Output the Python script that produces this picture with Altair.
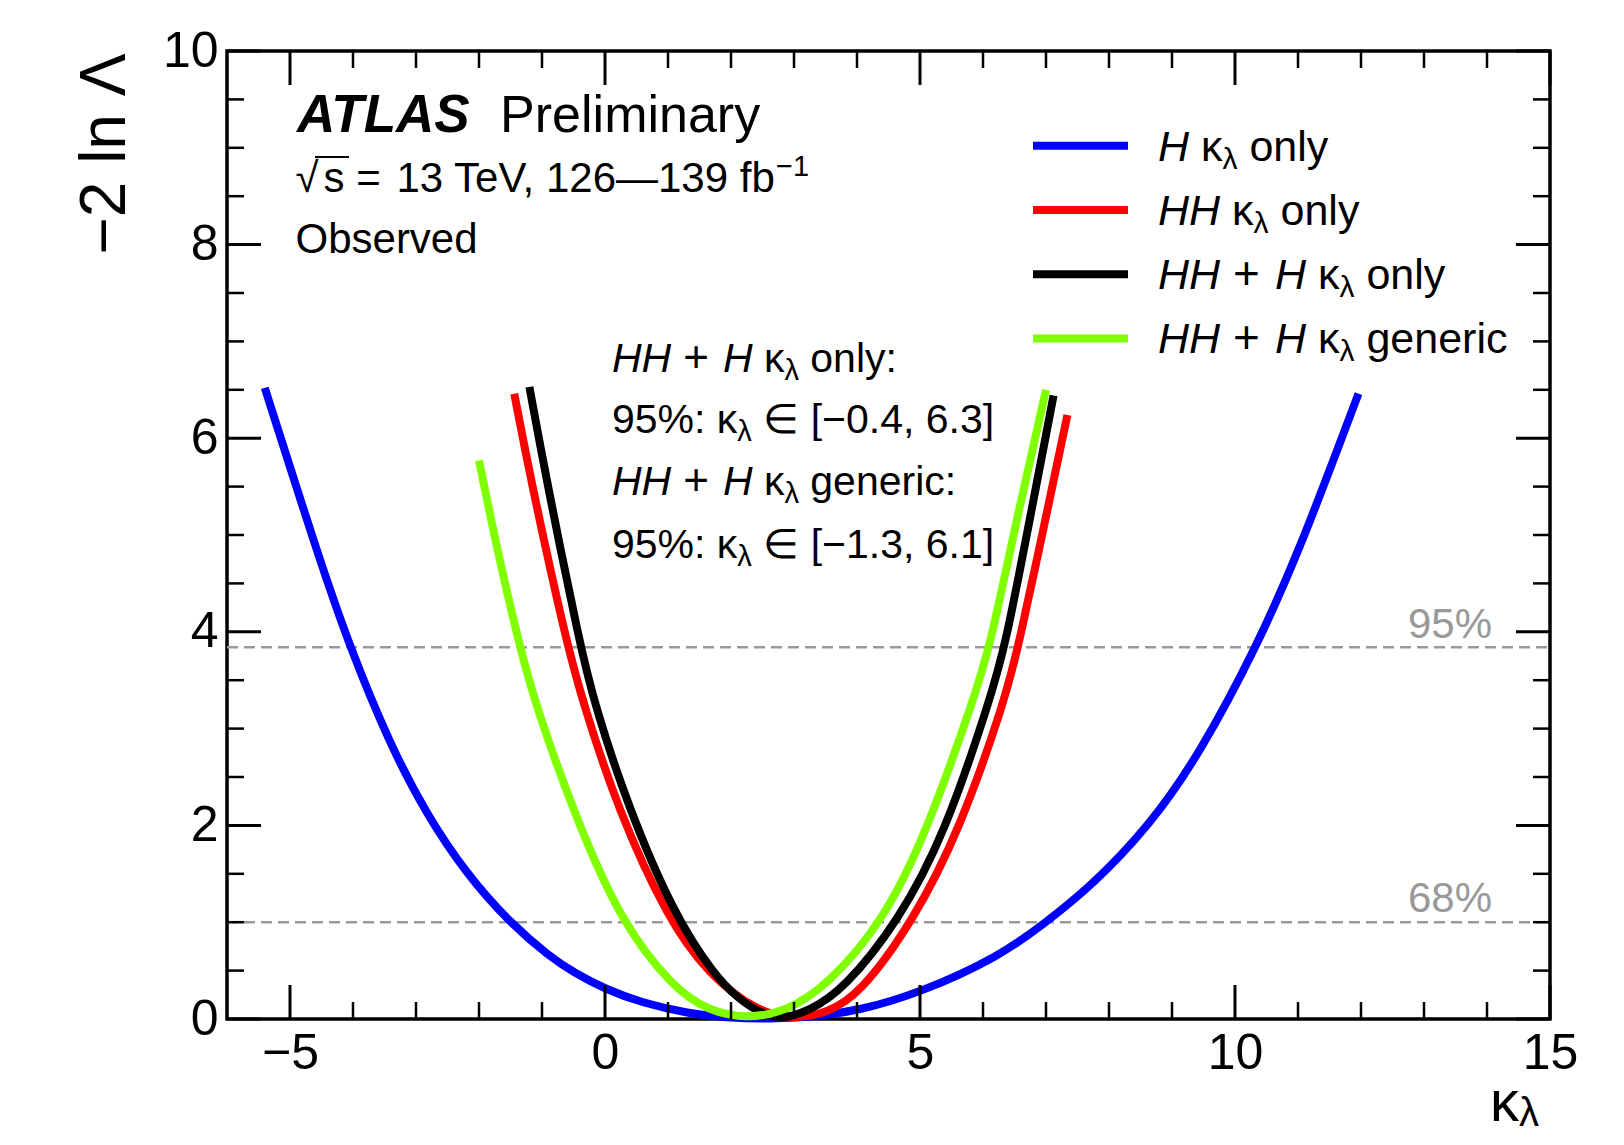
import altair as alt
import pandas as pd

# ------------------------------------------------------------------ data
x_domain = [-6, 15]
y_domain = [0, 10]

series_names = ["H κλ only", "HH κλ only", "HH + H κλ only", "HH + H κλ generic"]
series_colors = ["#0000ff", "#ff0000", "#000000", "#80ff00"]

h_only_x = [-5.40, -4.55, -4.05, -3.41, -2.83, -2.20, -1.52, -0.87, -0.49, 0.00, 0.57, 1.37,
            1.90, 2.60, 3.30, 4.05, 5.00, 6.27, 6.96, 7.70, 8.65, 9.44, 10.34, 11.03, 11.96]
h_only_y = [6.52, 4.78, 3.84, 2.83, 2.11, 1.50, 1.00, 0.64, 0.48, 0.31, 0.17, 0.05,
            0.015, 0.00, 0.02, 0.09, 0.27, 0.65, 0.98, 1.36, 2.00, 2.74, 3.84, 4.85, 6.46]

hh_only_x = [-1.44, -1.18, -0.61, -0.34, 0.20, 1.00, 1.63, 2.42, 3.00, 3.52, 4.05, 4.89,
             5.63, 6.35, 6.56, 7.01, 7.34]
hh_only_y = [6.46, 5.57, 3.88, 3.25, 2.17, 1.03, 0.47, 0.07, 0.00, 0.06, 0.26, 1.01,
             1.95, 3.30, 3.84, 5.22, 6.24]

comb_only_x = [-1.20, -0.93, -0.39, -0.16, 0.36, 1.10, 1.74, 2.10, 2.48, 2.85, 3.25, 3.78,
               4.66, 5.40, 6.11, 6.35, 6.76, 7.12]
comb_only_y = [6.53, 5.57, 3.84, 3.24, 2.20, 1.07, 0.45, 0.22, 0.05, 0.00, 0.09, 0.30,
               1.01, 1.92, 3.30, 3.84, 5.22, 6.44]

comb_gen_x = [-2.00, -1.68, -1.35, -1.10, -0.49, 0.25, 1.10, 1.63, 2.25, 2.88, 3.52, 4.42,
              5.10, 5.85, 6.11, 6.53, 7.00]
comb_gen_y = [5.77, 4.75, 3.84, 3.24, 2.12, 1.00, 0.31, 0.09, 0.00, 0.08, 0.34, 1.01,
              1.92, 3.30, 3.84, 5.15, 6.50]

cl_levels = [3.84, 1.0]
cl_labels = ["95%", "68%"]

x_major = [-5, 0, 5, 10, 15]
x_minor = [-4, -3, -2, -1, 1, 2, 3, 4, 6, 7, 8, 9, 11, 12, 13, 14]
y_major = [0, 2, 4, 6, 8, 10]
y_minor = [0.5, 1, 1.5, 2.5, 3, 3.5, 4.5, 5, 5.5, 6.5, 7, 7.5, 8.5, 9, 9.5]

# ------------------------------------------------------------------ geometry
W, H = 1323, 968
PLOT_LEFT, PLOT_TOP = 227, 51     # page position of plot area
FONT = "Liberation Sans"


def X(px):
    return x_domain[0] + (px - PLOT_LEFT) * (x_domain[1] - x_domain[0]) / W


def Y(py):
    return y_domain[1] - (py - PLOT_TOP) * (y_domain[1] - y_domain[0]) / H


DX = (x_domain[1] - x_domain[0]) / W
DY = (y_domain[1] - y_domain[0]) / H

xs = alt.Scale(domain=x_domain, nice=False, zero=False)
ys = alt.Scale(domain=y_domain, nice=False, zero=False)
xaxis = alt.Axis(values=x_major, title=None, ticks=False, domain=False, grid=False,
                 labelFontSize=50, labelFont=FONT, labelColor="black", labelPadding=9,
                 labelFlush=False, labelOverlap=False, labelBound=False)
yaxis = alt.Axis(values=y_major, title="−2 ln Λ", ticks=False, domain=False, grid=False,
                 labelFontSize=50, labelFont=FONT, labelColor="black", labelPadding=9,
                 labelFlush=False, labelOverlap=False, labelBaseline="middle",
                 titleFont=FONT, titleFontSize=64, titleFontWeight="normal",
                 titleColor="black", titleAngle=270, titleAlign="right",
                 titleBaseline="alphabetic", titleX=-103, titleY=2)


def ex(field="x"):
    return alt.X(f"{field}:Q", scale=xs, axis=xaxis)


def ey(field="y"):
    return alt.Y(f"{field}:Q", scale=ys, axis=yaxis)


layers = []

# ------------------------------------------------------------------ CL lines
cl_df = pd.DataFrame({"x": [x_domain[0]] * 2, "x2": [x_domain[1]] * 2, "y": cl_levels})
layers.append(alt.Chart(cl_df).mark_rule(color="#999999", strokeWidth=2.5, strokeDash=[11, 6]).encode(
    x=ex(), x2="x2:Q", y=ey()))

# ------------------------------------------------------------------ curves
curve_data = [(h_only_x, h_only_y), (hh_only_x, hh_only_y), (comb_only_x, comb_only_y),
              (comb_gen_x, comb_gen_y)]
for name, col, (cx, cy) in zip(series_names, series_colors, curve_data):
    df = pd.DataFrame({"x": cx, "y": cy, "i": list(range(len(cx)))})
    layers.append(alt.Chart(df).mark_line(color=col, strokeWidth=8, interpolate="basis",
                                          strokeCap="butt").encode(
        x=ex(), y=ey(), order="i:Q"))

# ------------------------------------------------------------------ inside ticks
MAJ, MIN = 34, 17
tick_rows = []
for t in x_major:
    tick_rows.append(dict(x=t, x2=t, y=y_domain[0], y2=y_domain[0] + MAJ * DY, w=3))
    tick_rows.append(dict(x=t, x2=t, y=y_domain[1], y2=y_domain[1] - MAJ * DY, w=3))
for t in x_minor:
    tick_rows.append(dict(x=t, x2=t, y=y_domain[0], y2=y_domain[0] + MIN * DY, w=2.5))
    tick_rows.append(dict(x=t, x2=t, y=y_domain[1], y2=y_domain[1] - MIN * DY, w=2.5))
for t in y_major:
    tick_rows.append(dict(x=x_domain[0], x2=x_domain[0] + MAJ * DX, y=t, y2=t, w=3))
    tick_rows.append(dict(x=x_domain[1], x2=x_domain[1] - MAJ * DX, y=t, y2=t, w=3))
for t in y_minor:
    tick_rows.append(dict(x=x_domain[0], x2=x_domain[0] + MIN * DX, y=t, y2=t, w=2.5))
    tick_rows.append(dict(x=x_domain[1], x2=x_domain[1] - MIN * DX, y=t, y2=t, w=2.5))
tick_df = pd.DataFrame(tick_rows)
layers.append(alt.Chart(tick_df).mark_rule(color="black").encode(
    x=ex(), x2="x2:Q", y=ey(), y2="y2:Q",
    strokeWidth=alt.StrokeWidth("w:Q", scale=None, legend=None)))

# ------------------------------------------------------------------ legend lines
leg_line_y = [Y(145.7), Y(210.0), Y(274.2), Y(338.4)]
leg_df = pd.DataFrame({"x": [X(1033)] * 4, "x2": [X(1128)] * 4, "y": leg_line_y,
                       "c": series_colors})
layers.append(alt.Chart(leg_df).mark_rule(strokeWidth=8).encode(
    x=ex(), x2="x2:Q", y=ey(), color=alt.Color("c:N", scale=None, legend=None)))

# sqrt overline
ol_df = pd.DataFrame({"x": [X(315)], "x2": [X(349)], "y": [Y(157)]})
layers.append(alt.Chart(ol_df).mark_rule(strokeWidth=2, color="black").encode(
    x=ex(), x2="x2:Q", y=ey()))

# ------------------------------------------------------------------ text
WID = {' ': .278, '+': .584, ',': .278, '.': .278, '%': .889, ':': .278, '[': .278, ']': .278,
       '=': .584, '−': .584, '—': 1.0, '√': .549, '∈': .713, 'κ': .5, 'λ': .5, 'Λ': .667,
       'A': .667, 'H': .722, 'L': .556, 'O': .778, 'P': .667, 'S': .667, 'T': .611, 'V': .667,
       'a': .556, 'b': .556, 'c': .5, 'd': .556, 'e': .556, 'f': .278, 'g': .556, 'i': .222,
       'l': .222, 'm': .833, 'n': .556, 'o': .556, 'r': .333, 's': .5, 'v': .5, 'y': .5}
BOLD = {'A': .722, 'T': .611, 'L': .611, 'S': .667}


def tw(s, size, bold=False):
    return sum((BOLD.get(c) if bold and c in BOLD else WID.get(c, .556)) for c in s) * size


text_rows = []


def add_line(x0, base, segs):
    x = x0
    for seg in segs:
        text, style, size = seg[0], seg[1], seg[2]
        dy = seg[3] if len(seg) > 3 else 0
        gap = seg[4] if len(seg) > 4 else 0
        x += gap
        lead = len(text) - len(text.lstrip(' '))
        x += lead * WID[' '] * size
        core = text.strip(' ')
        text_rows.append(dict(x=X(x), y=Y(base + dy), text=core, size=size, style=style))
        x += tw(core, size, style == "bi")
        trail = len(text) - len(text.rstrip(' '))
        x += trail * WID[' '] * size


# ATLAS label
add_line(297, 131.5, [("ATLAS", "bi", 53), (" Preliminary", "n", 52, 0, 12)])
add_line(295.5, 191.7, [("√", "n", 42), ("s", "n", 42, 0, 5), (" =", "n", 42),
                        (" 13 TeV, 126—139 fb", "n", 42, 0, 4), ("−1", "n", 29, -16, -8)])
add_line(295.5, 253, [("Observed", "n", 42)])

# legend text
LF, LS = 43, 30
leg_base = [160.7, 224.9, 289.1, 353.3]
add_line(1158, leg_base[0], [("H", "i", LF), (" κ", "n", LF), ("λ", "n", LS, 8), (" only", "n", LF)])
add_line(1158, leg_base[1], [("HH", "i", LF), (" κ", "n", LF), ("λ", "n", LS, 8), (" only", "n", LF)])
add_line(1158, leg_base[2], [("HH", "i", LF), ("+", "n", 46, 0, 13), ("H", "i", LF, 0, 15),
                             (" κ", "n", LF), ("λ", "n", LS, 8), (" only", "n", LF)])
add_line(1158, leg_base[3], [("HH", "i", LF), ("+", "n", 46, 0, 13), ("H", "i", LF, 0, 15),
                             (" κ", "n", LF), ("λ", "n", LS, 8), (" generic", "n", LF)])

# interval annotation
AF, AS = 41, 29
ann_base = [371.7, 433.3, 495.0, 558.3]
add_line(612, ann_base[0], [("HH", "i", AF), ("+", "n", 44, 0, 12), ("H", "i", AF, 0, 14),
                            (" κ", "n", AF), ("λ", "n", AS, 8), (" only:", "n", AF)])
add_line(612, ann_base[1], [("95%: κ", "n", AF), ("λ", "n", AS, 8), (" ∈ [−0.4, 6.3]", "n", AF)])
add_line(612, ann_base[2], [("HH", "i", AF), ("+", "n", 44, 0, 12), ("H", "i", AF, 0, 14),
                            (" κ", "n", AF), ("λ", "n", AS, 8), (" generic:", "n", AF)])
add_line(612, ann_base[3], [("95%: κ", "n", AF), ("λ", "n", AS, 8), (" ∈ [−1.3, 6.1]", "n", AF)])

# x-axis title
add_line(1490, 1121, [("κ", "n", 58), ("λ", "n", 40, 5)])

text_df = pd.DataFrame(text_rows)
styles = {"n": dict(fontStyle="normal", fontWeight="normal"),
          "i": dict(fontStyle="italic", fontWeight="normal"),
          "bi": dict(fontStyle="italic", fontWeight="bold")}
for st, kw in styles.items():
    sub = text_df[text_df["style"] == st]
    if len(sub) == 0:
        continue
    layers.append(alt.Chart(sub).mark_text(align="left", baseline="alphabetic", font=FONT,
                                           color="black", **kw).encode(
        x=ex(), y=ey(), text="text:N",
        size=alt.Size("size:Q", scale=None, legend=None)))

# CL labels
cl_text_df = pd.DataFrame({"x": [X(1492)] * 2, "y": [Y(638), Y(911.7)], "text": cl_labels})
layers.append(alt.Chart(cl_text_df).mark_text(align="right", baseline="alphabetic", font=FONT,
                                              fontSize=42, color="#999999").encode(
    x=ex(), y=ey(), text="text:N"))

chart = (
    alt.layer(*layers)
    .properties(
        width=W, height=H,
        autosize=alt.AutoSizeParams(type="none"),
        padding={"left": PLOT_LEFT - 8, "top": PLOT_TOP - 8, "right": 40, "bottom": 118},
    )
    .configure(font=FONT)
    .configure_view(stroke="black", strokeWidth=3.5)
)

chart.save("out.html", embed_options={"renderer": "svg", "actions": False})
